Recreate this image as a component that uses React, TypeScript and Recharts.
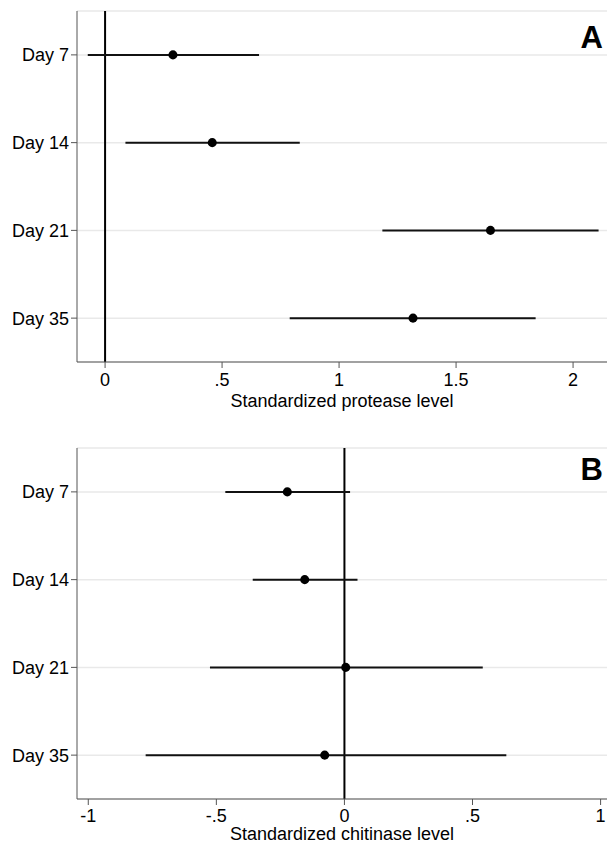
import React from "react";
import {
  ScatterChart,
  Scatter,
  XAxis,
  YAxis,
  ZAxis,
  CartesianGrid,
  ReferenceLine,
  ErrorBar,
  Label,
} from "recharts";

// categories (top to bottom)
const days = ["Day 7", "Day 14", "Day 21", "Day 35"];

// panel A: protease
const proteaseMean = [0.29, 0.458, 1.647, 1.316];
const proteaseLow = [-0.074, 0.087, 1.185, 0.789];
const proteaseHigh = [0.658, 0.832, 2.109, 1.84];
const proteaseTicks = [0, 0.5, 1, 1.5, 2];

// panel B: chitinase
const chitinaseMean = [-0.223, -0.155, 0.005, -0.077];
const chitinaseLow = [-0.465, -0.358, -0.525, -0.776];
const chitinaseHigh = [0.022, 0.051, 0.54, 0.632];
const chitinaseTicks = [-1, -0.5, 0, 0.5, 1];

const buildRows = (mean: number[], low: number[], high: number[]) =>
  mean.map((m, i) => ({
    x: m,
    y: i + 1,
    err: [m - low[i], high[i] - m],
  }));

// stata style: ".5" instead of "0.5"
const fmt = (v: number) => String(v).replace("0.", ".");

const FONT = "'Liberation Sans', Arial, sans-serif";
const axisColor = "#555";

interface PanelProps {
  rows: { x: number; y: number; err: number[] }[];
  domain: [number, number];
  ticks: number[];
  title: string;
  height: number;
  top: number;
  labelOffset: number;
  tickGap: number;
}

function Panel({ rows, domain, ticks, title, height, top, labelOffset, tickGap }: PanelProps) {
  return (
    <ScatterChart
      width={607}
      height={height}
      margin={{ top, right: 0, bottom: 0, left: 0 }}
    >
      <CartesianGrid vertical={false} stroke="#e9e9e9" strokeWidth={1.5} />
      <XAxis
        type="number"
        dataKey="x"
        domain={domain}
        ticks={ticks}
        allowDataOverflow
        tickFormatter={fmt}
        stroke={axisColor}
        tickSize={6}
        tickMargin={tickGap}
        tick={{ fontSize: 18, fill: "#000" }}
        height={height - top - 351}
      >
        <Label
          value={title}
          position="insideBottom"
          offset={labelOffset}
          style={{ fontSize: 18, fill: "#000" }}
        />
      </XAxis>
      <YAxis
        type="number"
        dataKey="y"
        domain={[0.5, 4.5]}
        ticks={[1, 2, 3, 4]}
        reversed
        allowDataOverflow
        tickFormatter={(v: number) => days[v - 1]}
        stroke={axisColor}
        tickSize={6}
        tickMargin={2}
        tick={{ fontSize: 18, fill: "#000" }}
        width={77}
      />
      <ZAxis range={[80, 80]} />
      <ReferenceLine x={0} stroke="#000" strokeWidth={2} />
      <Scatter data={rows} fill="#000" isAnimationActive={false}>
        <ErrorBar
          dataKey="err"
          direction="x"
          width={0}
          stroke="#111"
          strokeWidth={2}
          isAnimationActive={false}
        />
      </Scatter>
    </ScatterChart>
  );
}

export default function App() {
  const letterStyle: React.CSSProperties = {
    position: "absolute",
    right: 4,
    fontSize: 31,
    fontWeight: "bold",
    fontFamily: FONT,
    lineHeight: 1,
  };
  return (
    <div
      style={{
        position: "absolute",
        left: 0,
        top: 0,
        width: 607,
        height: 845,
        background: "#fff",
        fontFamily: FONT,
      }}
    >
      <div style={{ position: "absolute", left: 0, top: 0 }}>
        <Panel
          rows={buildRows(proteaseMean, proteaseLow, proteaseHigh)}
          domain={[-0.12, 2.145]}
          ticks={proteaseTicks}
          title="Standardized protease level"
          height={420}
          top={11}
          labelOffset={13}
          tickGap={5}
        />
      </div>
      <div style={{ position: "absolute", left: 0, top: 430 }}>
        <Panel
          rows={buildRows(chitinaseMean, chitinaseLow, chitinaseHigh)}
          domain={[-1.044, 1.025]}
          ticks={chitinaseTicks}
          title="Standardized chitinase level"
          height={415}
          top={18}
          labelOffset={5}
          tickGap={4}
        />
      </div>
      <div style={{ ...letterStyle, top: 22 }}>A</div>
      <div style={{ ...letterStyle, top: 454 }}>B</div>
    </div>
  );
}
